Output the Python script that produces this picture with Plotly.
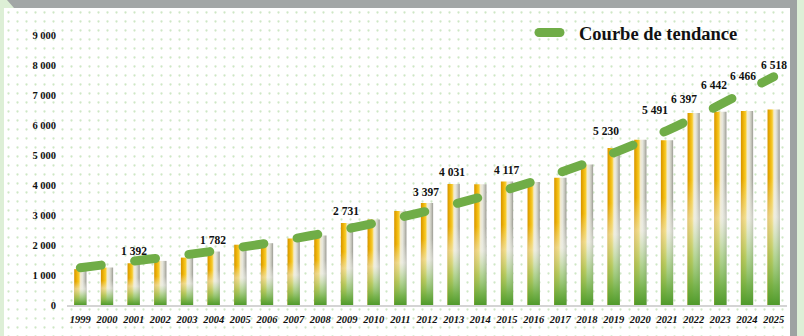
import plotly.graph_objects as go

# ---- data -------------------------------------------------------------
years = ["1999", "2000", "2001", "2002", "2003", "2004", "2005", "2006", "2007",
         "2008", "2009", "2010", "2011", "2012", "2013", "2014", "2015", "2016",
         "2017", "2018", "2019", "2020", "2021", "2022", "2023", "2024", "2025"]

values = [1195, 1250, 1392, 1470, 1580, 1782, 2010, 2060, 2220,
          2320, 2731, 2850, 3130, 3397, 4031, 4025, 4117, 4100,
          4240, 4680, 5230, 5510, 5491, 6397, 6442, 6466, 6518]

trend = [1243, 1353, 1463, 1573, 1680, 1797, 1923, 2060, 2210,
         2370, 2537, 2720, 2920, 3130, 3357, 3593, 3847, 4120,
         4420, 4737, 5070, 5433, 5813, 6237, 6680, 7147, 7607]

labelled_years = ["2001", "2004", "2009", "2012", "2013", "2015",
                  "2019", "2021", "2022", "2023", "2024", "2025"]

y_ticks = [0, 1000, 2000, 3000, 4000, 5000, 6000, 7000, 8000, 9000]

# ---- styling ----------------------------------------------------------
SERIF = "Liberation Serif, Times New Roman, serif"
GREEN = "#70AD47"
W, H = 804, 336

# pixel offsets (dx, dy) of each value label relative to its bar top
label_offsets = {
    "2001": (0, 12), "2004": (-1, 12), "2009": (-1, 12), "2012": (-1, 11),
    "2013": (-2, 12), "2015": (-1, 11), "2019": (-8, 17), "2021": (-12, 30),
    "2022": (-10, 14), "2023": (-6, 27), "2024": (-4, 35), "2025": (0, 44),
}


def fmt(v):
    return f"{v:,}".replace(",", " ")


fig = go.Figure()

# dotted chart panel
fig.add_trace(go.Scatter(
    x=[0, 1, 1, 0, 0], y=[0, 0, 1, 1, 0], xaxis="x", yaxis="y",
    mode="lines", fill="toself", line=dict(width=0, color="white"),
    fillcolor="white",
    fillpattern=dict(shape=".", size=9, solidity=0.05,
                     fgcolor="#9ED08B", bgcolor="white"),
    hoverinfo="skip", showlegend=False,
))

# bars: body + shading overlay (gradients applied after render)
fig.add_trace(go.Bar(
    x=years, y=values, xaxis="x2", yaxis="y2", width=0.46,
    marker=dict(color="#EDB512", line=dict(width=0)),
    hoverinfo="skip", showlegend=False,
))
fig.add_trace(go.Bar(
    x=years, y=values, xaxis="x2", yaxis="y2", width=0.46,
    marker=dict(color="rgba(0,0,0,0)", line=dict(width=0)),
    hoverinfo="skip", showlegend=False,
))

# trend curve
fig.add_trace(go.Scatter(
    x=years, y=trend, xaxis="x2", yaxis="y2", mode="lines",
    line=dict(color=GREEN, width=9, dash="21px,33.7px", shape="spline"),
    name="Courbe de tendance", hoverinfo="skip",
))

lookup = dict(zip(years, values))
annotations = []
for yr in labelled_years:
    dx, dy = label_offsets[yr]
    annotations.append(dict(
        x=years.index(yr), y=lookup[yr], xref="x2", yref="y2",
        text=fmt(lookup[yr]),
        showarrow=False, xanchor="center", yanchor="middle",
        xshift=dx, yshift=dy,
        font=dict(family=SERIF, size=11.5, color="#111111", weight="bold"),
    ))

shapes = [
    # top bevel band
    dict(type="path", xref="paper", yref="paper", layer="above",
         path=f"M {7/W},1 L {797/W},1 L {790/W},{1-8/H} L {14/W},{1-8/H} Z",
         fillcolor="#A2A6A6", line=dict(width=0)),
    # right bevel band
    dict(type="rect", xref="paper", yref="paper", layer="above",
         x0=790 / W, x1=797 / W, y0=0, y1=1,
         fillcolor="#9EA2A2", line=dict(width=0)),
]

fig.update_layout(
    width=W, height=H,
    margin=dict(l=0, r=0, t=0, b=0),
    paper_bgcolor="#DDEFD6",
    plot_bgcolor="rgba(0,0,0,0)",
    separators=". ",
    barmode="overlay",
    showlegend=True,
    xaxis=dict(domain=[4 / W, 790 / W], range=[0, 1], visible=False, fixedrange=True),
    yaxis=dict(domain=[0, 328 / H], range=[0, 1], visible=False, fixedrange=True),
    xaxis2=dict(
        domain=[67 / W, 787 / W], anchor="y2", type="category",
        range=[-0.5, len(years) - 0.5],
        showline=True, linecolor="#D4D4D4", linewidth=2,
        showgrid=False, zeroline=False, ticks="", automargin=False,
        ticklabelstandoff=3,
        tickfont=dict(family=SERIF, size=10.5, color="#111111",
                      weight="bold", style="italic"),
    ),
    yaxis2=dict(
        domain=[31 / H, 310 / H], anchor="x2", range=[0, 9300],
        tickmode="array", tickvals=y_ticks, tickformat=",d",
        showgrid=False, zeroline=False, showline=False, ticks="",
        automargin=False, ticklabelstandoff=10,
        tickfont=dict(family=SERIF, size=10.5, color="#111111", weight="bold"),
    ),
    legend=dict(
        x=534 / W, y=1 - 33 / H, xanchor="left", yanchor="middle",
        bgcolor="rgba(0,0,0,0)", itemwidth=35,
        font=dict(family=SERIF, size=18.5, color="#111111", weight="bold"),
    ),
    annotations=annotations,
    shapes=shapes,
)

# cylinder-like shading for the bars and rounded dash caps for the trend
post = """
var gd = document.querySelector('.js-plotly-plot');
var ns = 'http://www.w3.org/2000/svg';
var svg = gd.querySelector('svg.main-svg');
var defs = svg.querySelector('defs');
function addGrad(id, vertical, stops) {
  var g = document.createElementNS(ns, 'linearGradient');
  g.setAttribute('id', id);
  g.setAttribute('x1', '0'); g.setAttribute('y1', '0');
  g.setAttribute('x2', vertical ? '0' : '1');
  g.setAttribute('y2', vertical ? '1' : '0');
  stops.forEach(function (s) {
    var st = document.createElementNS(ns, 'stop');
    st.setAttribute('offset', s[0]);
    st.setAttribute('stop-color', s[1]);
    st.setAttribute('stop-opacity', s[2]);
    g.appendChild(st);
  });
  defs.appendChild(g);
}
addGrad('barSide', false, [
  ['0', '#D49400', 1], ['0.18', '#EBAE05', 1], ['0.38', '#F7CC2A', 1],
  ['0.52', '#F3EBD0', 1], ['0.68', '#E6E6DC', 1], ['0.85', '#C4C4BA', 1],
  ['1', '#9A9A92', 1]
]);
addGrad('barFoot', true, [
  ['0', '#FFFFFF', 0], ['0.35', '#F2F2EA', 0], ['0.55', '#EEF0E6', 0.55],
  ['0.75', '#9CCB78', 0.7], ['0.9', '#6FAF45', 0.92], ['1', '#4F9A2A', 1]
]);
var barTraces = gd.querySelectorAll('.barlayer .trace');
if (barTraces.length >= 2) {
  barTraces[0].querySelectorAll('path').forEach(function (p) {
    p.style.fill = 'url(#barSide)'; p.style.fillOpacity = 1;
  });
  barTraces[1].querySelectorAll('path').forEach(function (p) {
    p.style.fill = 'url(#barFoot)'; p.style.fillOpacity = 1;
  });
}
gd.querySelectorAll('.scatterlayer .js-line, .legend .legendlines path').forEach(function (p) {
  var s = p.style.stroke || '';
  if (s.indexOf('112, 173, 71') >= 0) {
    p.style.strokeLinecap = 'round';
    p.style.strokeWidth = '9px';
  }
});
"""

fig.write_html("out.html", post_script=post)
